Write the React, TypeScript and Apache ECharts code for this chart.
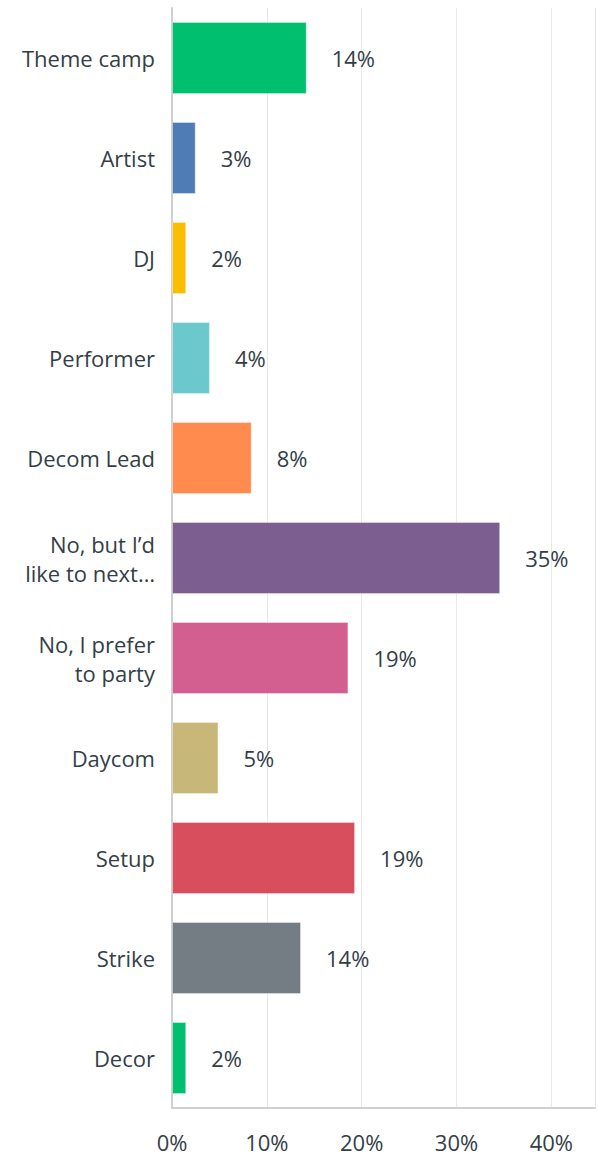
import React, { useEffect, useRef } from "react";
import * as echarts from "echarts";

const categories = [
  "Theme camp",
  "Artist",
  "DJ",
  "Performer",
  "Decom Lead",
  "No, but I’d\nlike to next…",
  "No, I prefer\nto party",
  "Daycom",
  "Setup",
  "Strike",
  "Decor",
];
const values = [14.2, 2.5, 1.5, 4.0, 8.4, 34.6, 18.6, 4.9, 19.3, 13.6, 1.5];
const colors = [
  "#00bf6f",
  "#507cb6",
  "#f9be00",
  "#6bc8cd",
  "#ff8b4f",
  "#7d5e90",
  "#d25f90",
  "#c7b879",
  "#d94e5c",
  "#747c84",
  "#00bf6f",
];
const tickValues = [0, 10, 20, 30, 40];

export default function App() {
  const ref = useRef<HTMLDivElement>(null);
  useEffect(() => {
    if (!ref.current) return;
    const chart = echarts.init(ref.current, null, { renderer: "svg" });
    const font = "'Open Sans', sans-serif";
    chart.setOption({
      animation: false,
      grid: { left: 172, top: 8, right: 0, height: 1100, containLabel: false },
      xAxis: {
        type: "value",
        min: 0,
        max: 44.6,
        interval: 10,
        axisLine: { show: true, lineStyle: { color: "#d0d0d0", width: 2 } },
        axisTick: { show: false },
        splitLine: { show: true, lineStyle: { color: "#e8e8e8", width: 1 } },
        axisLabel: {
          margin: 23,
          color: "#333e48",
          fontSize: 22,
          fontFamily: font,
          formatter: (v: number) => (tickValues.includes(v) ? v + "%" : ""),
        },
      },
      yAxis: {
        type: "category",
        inverse: true,
        data: categories,
        axisLine: { show: true, lineStyle: { color: "#d0d0d0", width: 2 } },
        axisTick: { show: false },
        axisLabel: {
          margin: 17,
          color: "#333e48",
          fontSize: 22,
          lineHeight: 29,
          fontFamily: font,
          align: "right",
        },
      },
      series: [
        {
          type: "bar",
          barWidth: "72%",
          data: values.map((v, i) => ({
            value: v,
            itemStyle: { color: colors[i], borderColor: "rgba(255,255,255,0.35)", borderWidth: 1 },
          })),
          label: {
            show: true,
            position: "right",
            distance: 25,
            color: "#333e48",
            fontSize: 22,
            fontFamily: font,
            formatter: (p: any) => Math.round(p.value) + "%",
          },
        },
      ],
    });
    return () => chart.dispose();
  }, []);
  return (
    <div
      ref={ref}
      style={{ position: "fixed", left: 0, top: 0, width: 598, height: 1156, background: "#fff" }}
    />
  );
}
